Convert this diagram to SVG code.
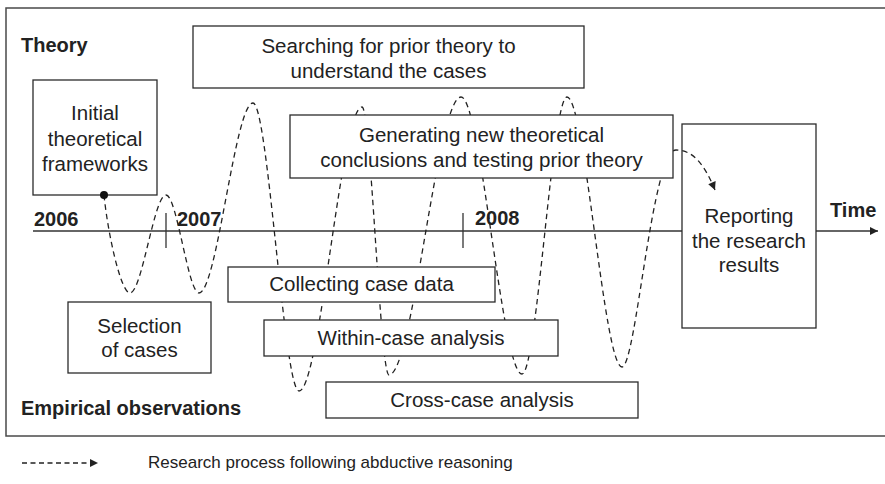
<svg xmlns="http://www.w3.org/2000/svg" width="885" height="484" viewBox="0 0 885 484">
  <style>
    .frame { fill: none; stroke: #4a4a4a; stroke-width: 1.5; }
    .box { fill: #ffffff; stroke: #2b2b2b; stroke-width: 1.3; }
    .box-open { fill: none; stroke: #2b2b2b; stroke-width: 1.3; }
    .axis { fill: none; stroke: #333333; stroke-width: 1.3; }
    .flow { fill: none; stroke: #222222; stroke-width: 1.3; stroke-dasharray: 5.5 4; }
    .label { font-family: "Liberation Sans", Arial, sans-serif; font-size: 20.5px; fill: #222222; text-anchor: middle; }
    .heading { font-family: "Liberation Sans", Arial, sans-serif; font-size: 20px; font-weight: bold; fill: #222222; }
    .legend { font-family: "Liberation Sans", Arial, sans-serif; font-size: 17px; fill: #222222; }
  </style>
  <defs>
    <marker id="arrow" viewBox="0 0 10 10" refX="10" refY="5" markerWidth="9" markerHeight="8" markerUnits="userSpaceOnUse" orient="auto">
      <path d="M0,0 L10,5 L0,10 z" fill="#222222"/>
    </marker>
  </defs>

  <rect width="885" height="484" fill="#ffffff"/>

  <!-- outer panel, open to the right -->
  <rect class="frame" x="6" y="8" width="900" height="428"/>

  <!-- time axis (interrupted by the reporting box) -->
  <g id="timeline">
    <line class="axis" x1="33" y1="231" x2="682" y2="231"/>
    <line class="axis" x1="816" y1="231" x2="878" y2="231" marker-end="url(#arrow)"/>
    <line class="axis" x1="166" y1="213" x2="166" y2="248"/>
    <line class="axis" x1="463" y1="213" x2="463" y2="248"/>
    <text class="heading" x="34" y="226">2006</text>
    <text class="heading" x="177" y="226">2007</text>
    <text class="heading" x="475" y="225">2008</text>
    <text class="heading" x="830" y="217">Time</text>
  </g>

  <text class="heading" x="21" y="52">Theory</text>
  <text class="heading" x="21" y="415">Empirical observations</text>

  <!-- abductive research process -->
  <g id="connectors">
    <path class="flow" d="M104,195 C108,235 121,293 130,293 C142,293 154,195 166,195 C177,195 188,293 199,293 C217,293 235,103 253,103 C268,103 284,391 299,391 C320,391 341,107 362,107 C371,107 380,375 389,375 C413,375 437,97 461,97 C481,97 502,374 522,374 C537,374 552,97 567,97 C585,97 604,367 622,367 C636,367 652,150 676,150 C694,150 705,166 715,190" marker-end="url(#arrow)"/>
  </g>

  <g id="initial-frameworks">
    <rect class="box" x="33" y="80" width="124" height="115"/>
    <text class="label" x="95" y="120">Initial</text>
    <text class="label" x="95" y="146">theoretical</text>
    <text class="label" x="95" y="171">frameworks</text>
    <circle cx="104" cy="195" r="4" fill="#111111"/>
  </g>

  <g id="prior-theory">
    <rect class="box" x="193" y="26" width="391" height="62"/>
    <text class="label" x="388.5" y="53">Searching for prior theory to</text>
    <text class="label" x="388.5" y="78">understand the cases</text>
  </g>

  <g id="new-theory">
    <rect class="box" x="290" y="115" width="383" height="63"/>
    <text class="label" x="481.5" y="142">Generating new theoretical</text>
    <text class="label" x="481.5" y="167">conclusions and testing prior theory</text>
  </g>

  <g id="reporting">
    <rect class="box-open" x="682" y="124" width="134" height="204"/>
    <text class="label" x="749" y="223">Reporting</text>
    <text class="label" x="749" y="248">the research</text>
    <text class="label" x="749" y="272">results</text>
  </g>

  <g id="case-selection">
    <rect class="box" x="68" y="302" width="143" height="71"/>
    <text class="label" x="139.5" y="333">Selection</text>
    <text class="label" x="139.5" y="357">of cases</text>
  </g>

  <g id="data-collection">
    <rect class="box" x="228" y="267" width="267" height="35"/>
    <text class="label" x="361.5" y="291">Collecting case data</text>
  </g>

  <g id="within-case">
    <rect class="box" x="264" y="320" width="294" height="36"/>
    <text class="label" x="411" y="345">Within-case analysis</text>
  </g>

  <g id="cross-case">
    <rect class="box" x="326" y="382" width="312" height="36"/>
    <text class="label" x="482" y="407">Cross-case analysis</text>
  </g>

  <!-- legend -->
  <g id="legend">
    <line x1="22" y1="463" x2="98" y2="463" stroke="#222222" stroke-width="1.3" stroke-dasharray="5 3.5" marker-end="url(#arrow)"/>
    <text class="legend" x="148" y="468">Research process following abductive reasoning</text>
  </g>
</svg>
